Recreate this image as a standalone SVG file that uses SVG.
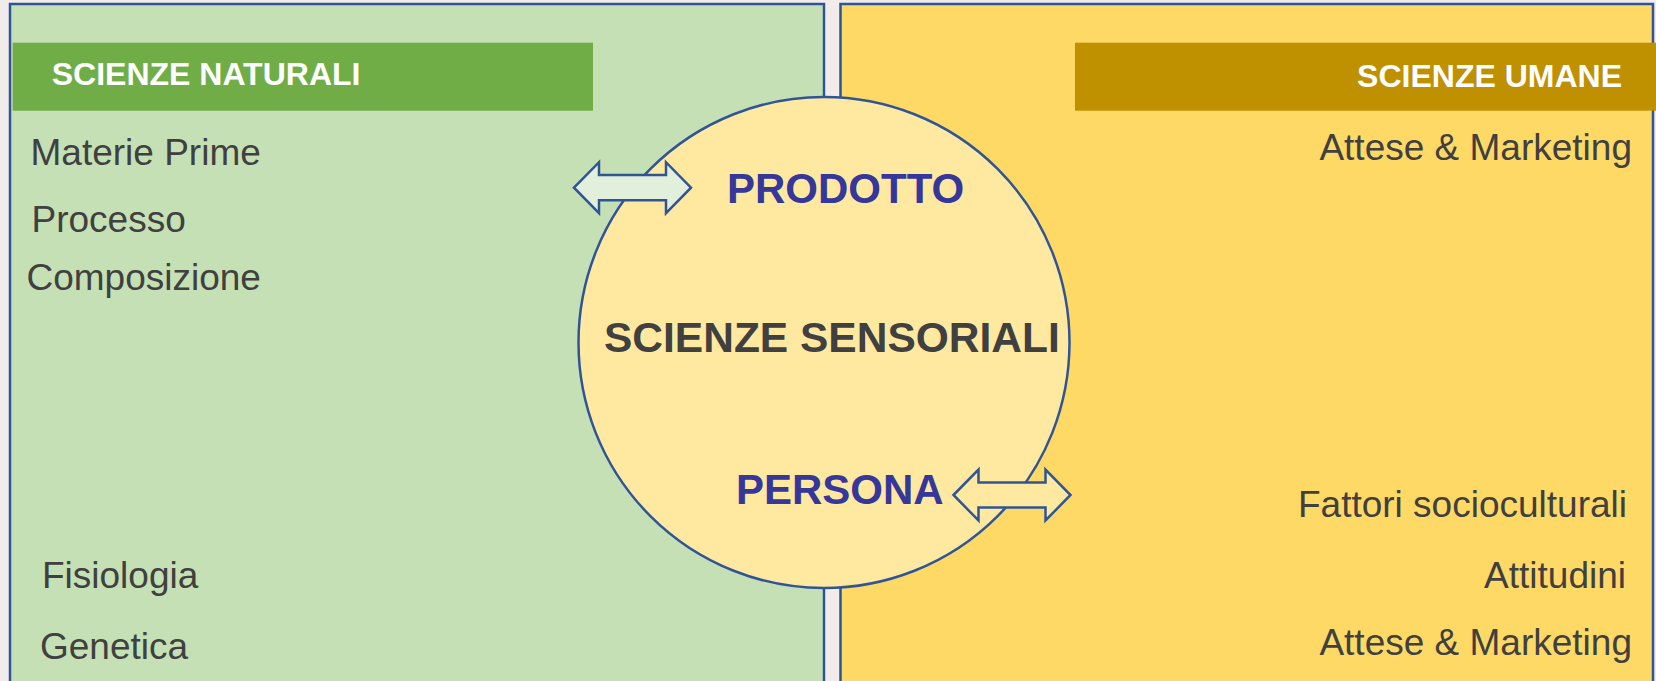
<svg xmlns="http://www.w3.org/2000/svg" xmlns:xlink="http://www.w3.org/1999/xlink" width="1656" height="681" viewBox="0 0 1656 681">
  <style>
    .panel { stroke: #2f5597; stroke-width: 2.5; }
    .hdr { font-family: "Liberation Sans", Arial, sans-serif; font-weight: bold; font-size: 32px; fill: #ffffff; }
    .item { font-family: "Liberation Sans", Arial, sans-serif; font-size: 37px; fill: #404040; }
    .key { font-family: "Liberation Sans", Arial, sans-serif; font-weight: bold; font-size: 42px; fill: #35379a; }
    .center { font-family: "Liberation Sans", Arial, sans-serif; font-weight: bold; font-size: 42.5px; fill: #404040; }
    .arrow { stroke: #2f5597; stroke-width: 2.5; stroke-linejoin: miter; }
  </style>
  <defs>
    <path id="dbl" d="M -58.5 0 L -33.5 -25.5 L -33.5 -12.6 L 33.5 -12.6 L 33.5 -25.5 L 58.5 0 L 33.5 25.5 L 33.5 12.6 L -33.5 12.6 L -33.5 25.5 Z"/>
  </defs>

  <rect x="0" y="0" width="1656" height="681" fill="#f1ecea"/>

  <g id="scienze-naturali">
    <rect class="panel" x="10" y="4" width="814" height="690" fill="#c5e0b4"/>
    <rect x="12.7" y="42.7" width="580.3" height="68" fill="#70ad47"/>
    <text class="hdr" x="51.7" y="85">SCIENZE NATURALI</text>
    <text class="item" x="30.5" y="165">Materie Prime</text>
    <text class="item" x="31.5" y="232">Processo</text>
    <text class="item" x="26.5" y="290">Composizione</text>
    <text class="item" x="42" y="588">Fisiologia</text>
    <text class="item" x="40" y="659">Genetica</text>
  </g>

  <g id="scienze-umane">
    <rect class="panel" x="840.5" y="4" width="812.5" height="690" fill="#ffd966"/>
    <rect x="1075" y="42.7" width="581" height="68" fill="#bf9000"/>
    <text class="hdr" x="1622" y="86.5" text-anchor="end">SCIENZE UMANE</text>
    <text class="item" x="1632" y="160" text-anchor="end">Attese &amp; Marketing</text>
    <text class="item" x="1627" y="517" text-anchor="end">Fattori socioculturali</text>
    <text class="item" x="1626" y="588" text-anchor="end">Attitudini</text>
    <text class="item" x="1632" y="655" text-anchor="end">Attese &amp; Marketing</text>
  </g>

  <g id="scienze-sensoriali">
    <circle cx="824" cy="342.5" r="245.5" fill="#ffe9a1" stroke="#2f5597" stroke-width="2.5"/>
    <text class="center" x="604" y="352">SCIENZE SENSORIALI</text>
  </g>

  <g id="connectors">
    <use xlink:href="#dbl" href="#dbl" class="arrow" x="632.5" y="187.7" fill="#e2efda"/>
    <use xlink:href="#dbl" href="#dbl" class="arrow" x="1012" y="495" fill="#ffe9a1"/>
  </g>

  <g id="prodotto">
    <text class="key" x="727" y="203.3">PRODOTTO</text>
  </g>
  <g id="persona">
    <text class="key" x="736" y="503.7">PERSONA</text>
  </g>
</svg>
